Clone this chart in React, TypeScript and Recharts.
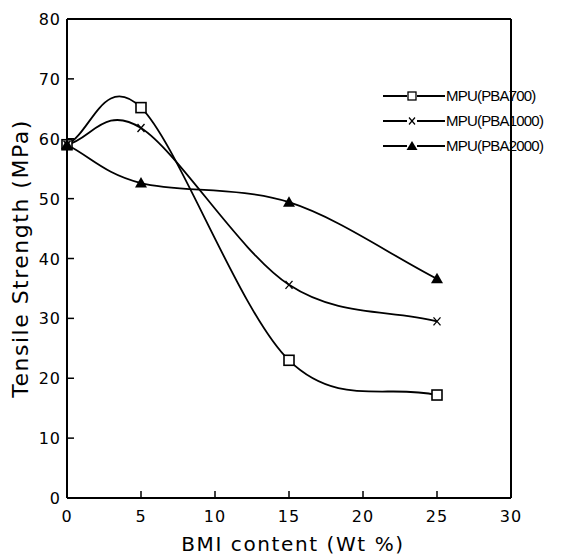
import React from 'react';
import { LineChart, Line, XAxis, YAxis, ReferenceLine } from 'recharts';

const bmiContent = [0, 5, 15, 25];
const pba700 = [59, 65.2, 23, 17.2];
const pba1000 = [59, 61.8, 35.6, 29.5];
const pba2000 = [59, 52.6, 49.4, 36.6];
const xTicks = [0, 5, 10, 15, 20, 25, 30];
const yTicks = [0, 10, 20, 30, 40, 50, 60, 70, 80];
const seriesNames = ['MPU(PBA700)', 'MPU(PBA1000)', 'MPU(PBA2000)'];

const data = bmiContent.map((x, i) => ({
  x,
  a: pba700[i],
  b: pba1000[i],
  c: pba2000[i],
}));

const tickFont = '"DejaVu Sans", sans-serif';
const legendFont = '"Liberation Sans Narrow", "Liberation Sans", sans-serif';

// smooth hand-drawn look: Catmull-Rom style curve through the points the scales give
const smoothCurve = (ctx: any) => {
  let pts: number[][] = [];
  return {
    areaStart() {},
    areaEnd() {},
    lineStart() {
      pts = [];
    },
    point(x: number, y: number) {
      pts.push([+x, +y]);
    },
    lineEnd() {
      const n = pts.length;
      if (!n) return;
      ctx.moveTo(pts[0][0], pts[0][1]);
      const tan = (i: number) => {
        const a = pts[Math.max(i - 1, 0)];
        const b = pts[Math.min(i + 1, n - 1)];
        const k = i === 0 || i === n - 1 ? 1 : 0.5;
        return [(b[0] - a[0]) * k, (b[1] - a[1]) * k];
      };
      for (let i = 0; i < n - 1; i++) {
        const m0 = tan(i);
        const m1 = tan(i + 1);
        const p0 = pts[i];
        const p1 = pts[i + 1];
        ctx.bezierCurveTo(p0[0] + m0[0] / 3, p0[1] + m0[1] / 3, p1[0] - m1[0] / 3, p1[1] - m1[1] / 3, p1[0], p1[1]);
      }
    },
  };
};

const SquareDot = (p: any) => (
  <rect key={`s-${p.index}`} x={p.cx - 5} y={p.cy - 5} width={10} height={10} fill="#fff" stroke="#000" strokeWidth={1.6} />
);
const CrossDot = (p: any) => (
  <g key={`x-${p.index}`} stroke="#000" strokeWidth={1.3}>
    <line x1={p.cx - 3.5} y1={p.cy - 4} x2={p.cx + 3.5} y2={p.cy + 4} />
    <line x1={p.cx + 3.5} y1={p.cy - 4} x2={p.cx - 3.5} y2={p.cy + 4} />
  </g>
);
const TriDot = (p: any) => (
  <path key={`t-${p.index}`} d={`M${p.cx},${p.cy - 6} L${p.cx + 6},${p.cy + 4.5} L${p.cx - 6},${p.cy + 4.5} Z`} fill="#000" />
);

const XTick = (p: any) => (
  <g>
    {p.payload.value !== 0 && p.payload.value !== 30 && (
      <line x1={p.x} y1={p.y} x2={p.x} y2={p.y - 7} stroke="#000" strokeWidth={1.5} />
    )}
    <text x={p.x} y={p.y + 24} textAnchor="middle" fontSize={16} fontFamily={tickFont} letterSpacing={1} fill="#000">
      {p.payload.value}
    </text>
  </g>
);

const YTick = (p: any) => (
  <g>
    {p.payload.value !== 0 && p.payload.value !== 80 && (
      <line x1={p.x} y1={p.y} x2={p.x + 7} y2={p.y} stroke="#000" strokeWidth={1.5} />
    )}
    <text x={p.x - 6} y={p.y + 6} textAnchor="end" fontSize={16} fontFamily={tickFont} letterSpacing={1} fill="#000">
      {p.payload.value}
    </text>
  </g>
);

const legendMarks = [
  (cx: number, cy: number) => <rect x={cx - 4} y={cy - 4} width={8} height={8} fill="#fff" stroke="#000" strokeWidth={1.3} />,
  (cx: number, cy: number) => (
    <g stroke="#000" strokeWidth={1.2}>
      <line x1={cx - 3} y1={cy - 3.5} x2={cx + 3} y2={cy + 3.5} />
      <line x1={cx + 3} y1={cy - 3.5} x2={cx - 3} y2={cy + 3.5} />
    </g>
  ),
  (cx: number, cy: number) => <path d={`M${cx},${cy - 5} L${cx + 5.5},${cy + 4} L${cx - 5.5},${cy + 4} Z`} fill="#000" />,
];

const ChartLegend = () => (
  <div style={{ position: 'absolute', left: 375, top: 75 }}>
    {seriesNames.map((name, i) => (
      <div key={name} style={{ display: 'flex', alignItems: 'center', height: 25 }}>
        <svg width={63} height={20} style={{ display: 'block' }}>
          <line x1={0} y1={10} x2={24} y2={10} stroke="#000" strokeWidth={2} />
          <line x1={34} y1={10} x2={62} y2={10} stroke="#000" strokeWidth={2} />
          {legendMarks[i](29, 10)}
        </svg>
        <span style={{ fontFamily: legendFont, fontSize: 15, letterSpacing: -0.8, color: '#000', whiteSpace: 'nowrap' }}>{name}</span>
      </div>
    ))}
  </div>
);

export default function App() {
  return (
    <div style={{ position: 'relative', width: 576, height: 551, background: '#fff' }}>
      <LineChart width={576} height={551} data={data} margin={{ top: 11, right: 73, bottom: 11, left: 14 }}>
        <XAxis
          dataKey="x"
          type="number"
          domain={[0, 30]}
          ticks={xTicks}
          tickLine={false}
          tickSize={0}
          tickMargin={0}
          tick={<XTick />}
          height={50}
          axisLine={{ stroke: '#000', strokeWidth: 2 }}
          label={{ value: 'BMI content (Wt %)', position: 'insideBottom', offset: -3, dx: 4, fontSize: 20, fontFamily: tickFont, fill: '#000', letterSpacing: 1.6 }}
        />
        <YAxis
          type="number"
          domain={[0, 80]}
          ticks={yTicks}
          tickLine={false}
          tickSize={0}
          tickMargin={0}
          tick={<YTick />}
          width={45}
          axisLine={{ stroke: '#000', strokeWidth: 2 }}
          label={{ value: 'Tensile Strength (MPa)', angle: -90, position: 'insideLeft', offset: -2, textAnchor: 'middle', fontSize: 22, fontFamily: tickFont, fill: '#000', letterSpacing: 1.5 }}
        />
        <ReferenceLine y={80} stroke="#000" strokeWidth={2} />
        <ReferenceLine x={30} stroke="#000" strokeWidth={2} />
        <Line dataKey="a" type={smoothCurve as any} stroke="#000" strokeWidth={1.8} dot={SquareDot} isAnimationActive={false} />
        <Line dataKey="b" type={smoothCurve as any} stroke="#000" strokeWidth={1.8} dot={CrossDot} isAnimationActive={false} />
        <Line dataKey="c" type={smoothCurve as any} stroke="#000" strokeWidth={1.8} dot={TriDot} isAnimationActive={false} />
      </LineChart>
      <ChartLegend />
    </div>
  );
}
